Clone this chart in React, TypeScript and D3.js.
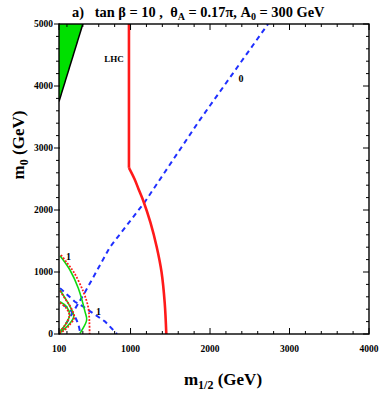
import * as d3 from "d3";
import React from "react";

// m_1/2 vs m_0 plane (GeV)
const xMajor = [100, 1000, 2000, 3000, 4000];
const yMajor = [0, 1000, 2000, 3000, 4000, 5000];
const xMinor = d3.range(200, 4000, 200);
const yMinor = d3.range(200, 5000, 200);

const greenRegion: [number, number][] = [[100, 5000], [400, 5000], [100, 3750]];
const blackEdge: [number, number][] = [[100, 3750], [400, 5000]];

const lhcVertical: [number, number][] = [[980, 5000], [980, 2680]];
const lhcArc: [number, number][] = [
  [980, 2680], [1050, 2500], [1100, 2340], [1160, 2150], [1250, 1800],
  [1330, 1400], [1390, 1000], [1430, 500], [1450, 0],
];

const blueZero: [number, number][] = [[130, 40], [430, 680], [740, 1400], [1180, 2130], [1870, 3450], [2730, 5000]];
const blueOne: [number, number][] = [[113, 740], [300, 520], [406, 440], [530, 333], [680, 200], [830, 0]];
const blueInner: [number, number][] = [[150, 470], [240, 390], [300, 280], [345, 145], [365, 30]];

const greenOuter: [number, number][] = [[113, 1263], [238, 1032], [343, 737], [427, 360], [448, 226], [364, 10]];
const redOuter: [number, number][] = [[125, 1274], [200, 1150], [290, 990], [406, 682], [469, 420], [482, 200], [485, 0]];
const greenInner1: [number, number][] = [[113, 710], [175, 580], [240, 440], [285, 280], [230, 160], [150, 60], [110, 20]];
const redInner1: [number, number][] = [[113, 695], [182, 560], [248, 430], [292, 268], [236, 150], [156, 50], [108, 8]];
const greenInner2: [number, number][] = [[113, 520], [195, 440], [235, 310], [180, 150], [115, 50]];
const redInner2: [number, number][] = [[113, 505], [190, 420], [230, 298], [175, 140], [110, 38]];

const W = 382, H = 397;
const margin = { top: 24, right: 13, bottom: 63, left: 59 };

export default function App() {
  const x = d3.scaleLinear().domain([100, 4000]).range([margin.left, W - margin.right]);
  const y = d3.scaleLinear().domain([0, 5000]).range([H - margin.bottom, margin.top]);
  const [x0, x1] = x.range();
  const [y0, y1] = y.range();

  const lin = d3.line<[number, number]>().x(d => x(d[0])).y(d => y(d[1]));
  const smooth = d3.line<[number, number]>().x(d => x(d[0])).y(d => y(d[1])).curve(d3.curveCatmullRom.alpha(0.5));

  const font = "'Liberation Serif', 'Times New Roman', serif";
  const red = "#ff1a1a", blue = "#1f2fff", green = "#10d810";

  return (
    <svg width={W} height={H} style={{ position: "absolute", left: 0, top: 0, background: "#fff" }} fontFamily={font}>
      <defs>
        <clipPath id="plot">
          <rect x={x0} y={y1} width={x1 - x0} height={y0 - y1} />
        </clipPath>
      </defs>

      <g clipPath="url(#plot)">
        <path d={lin(greenRegion) + "Z"} fill="#00e000" />
        <path d={lin(blackEdge)!} stroke="#000" strokeWidth={1.5} fill="none" />

        <path d={lin(blueZero)!} stroke={blue} strokeWidth={2} strokeDasharray="5,4" fill="none" />
        <path d={lin(blueOne)!} stroke={blue} strokeWidth={2} strokeDasharray="5,4" fill="none" />
        <path d={smooth(blueInner)!} stroke={blue} strokeWidth={2} strokeDasharray="5,4" fill="none" />

        <path d={smooth(greenOuter)!} stroke={green} strokeWidth={1.6} fill="none" />
        <path d={smooth(greenInner1)!} stroke={green} strokeWidth={1.6} fill="none" />
        <path d={smooth(greenInner2)!} stroke={green} strokeWidth={1.6} fill="none" />
        <path d={smooth(redOuter)!} stroke={red} strokeWidth={1.8} strokeDasharray="1.8,1.6" fill="none" />
        <path d={smooth(redInner1)!} stroke={red} strokeWidth={1.8} strokeDasharray="1.8,1.6" fill="none" />
        <path d={smooth(redInner2)!} stroke={red} strokeWidth={1.8} strokeDasharray="1.8,1.6" fill="none" />

        <path d={lin(lhcVertical)!} stroke={red} strokeWidth={2.6} fill="none" />
        <path d={smooth(lhcArc)!} stroke={red} strokeWidth={2.6} fill="none" />
      </g>

      {/* curve labels */}
      <text x={114} y={62} fontSize={9} fontWeight="bold" textAnchor="middle">LHC</text>
      <text x={241} y={82} fontSize={10} fontWeight="bold" textAnchor="middle">0</text>
      <text x={68.5} y={260} fontSize={10} fontWeight="bold" textAnchor="middle">1</text>
      <text x={98.5} y={315} fontSize={10} fontWeight="bold" textAnchor="middle">1</text>

      {/* frame and ticks */}
      <rect x={x0} y={y1} width={x1 - x0} height={y0 - y1} fill="none" stroke="#000" strokeWidth={1.4} />
      {xMajor.map(v => (
        <g key={"xM" + v}>
          <line x1={x(v)} x2={x(v)} y1={y0} y2={y0 - 6} stroke="#000" strokeWidth={1} />
          <line x1={x(v)} x2={x(v)} y1={y1} y2={y1 + 6} stroke="#000" strokeWidth={1} />
          <text x={x(v)} y={y0 + 18} fontSize={9.5} fontWeight="bold" textAnchor="middle">{v}</text>
        </g>
      ))}
      {xMinor.filter(v => !xMajor.includes(v)).map(v => (
        <g key={"xm" + v}>
          <line x1={x(v)} x2={x(v)} y1={y0} y2={y0 - 3} stroke="#000" strokeWidth={1} />
          <line x1={x(v)} x2={x(v)} y1={y1} y2={y1 + 3} stroke="#000" strokeWidth={1} />
        </g>
      ))}
      {yMajor.map(v => (
        <g key={"yM" + v}>
          <line x1={x0 - 5} x2={x0 + 1} y1={y(v)} y2={y(v)} stroke="#000" strokeWidth={1} />
          <line x1={x1} x2={x1 - 6} y1={y(v)} y2={y(v)} stroke="#000" strokeWidth={1} />
          <text x={x0 - 6} y={y(v) + 3.2} fontSize={9.5} fontWeight="bold" textAnchor="end">{v}</text>
        </g>
      ))}
      {yMinor.filter(v => !yMajor.includes(v)).map(v => (
        <g key={"ym" + v}>
          <line x1={x0 - 3} x2={x0} y1={y(v)} y2={y(v)} stroke="#000" strokeWidth={1} />
          <line x1={x1} x2={x1 - 3} y1={y(v)} y2={y(v)} stroke="#000" strokeWidth={1} />
        </g>
      ))}

      {/* title */}
      <text x={72} y={17} fontSize={14.4} fontWeight="bold" xmlSpace="preserve">
        <tspan>a)   tan β = 10 ,  θ</tspan>
        <tspan fontSize={10} dy={3}>A</tspan>
        <tspan dy={-3}> = 0.17π, A</tspan>
        <tspan fontSize={10} dy={3}>0</tspan>
        <tspan dy={-3}> = 300 GeV</tspan>
      </text>

      {/* axis titles */}
      <text x={223} y={385} fontSize={17} fontWeight="bold" textAnchor="middle">
        <tspan>m</tspan>
        <tspan fontSize={12} dy={4}>1/2</tspan>
        <tspan dy={-4}> (GeV)</tspan>
      </text>
      <text transform="translate(24,145) rotate(-90)" fontSize={17} fontWeight="bold" textAnchor="middle">
        <tspan>m</tspan>
        <tspan fontSize={12} dy={4}>0</tspan>
        <tspan dy={-4}> (GeV)</tspan>
      </text>
    </svg>
  );
}
